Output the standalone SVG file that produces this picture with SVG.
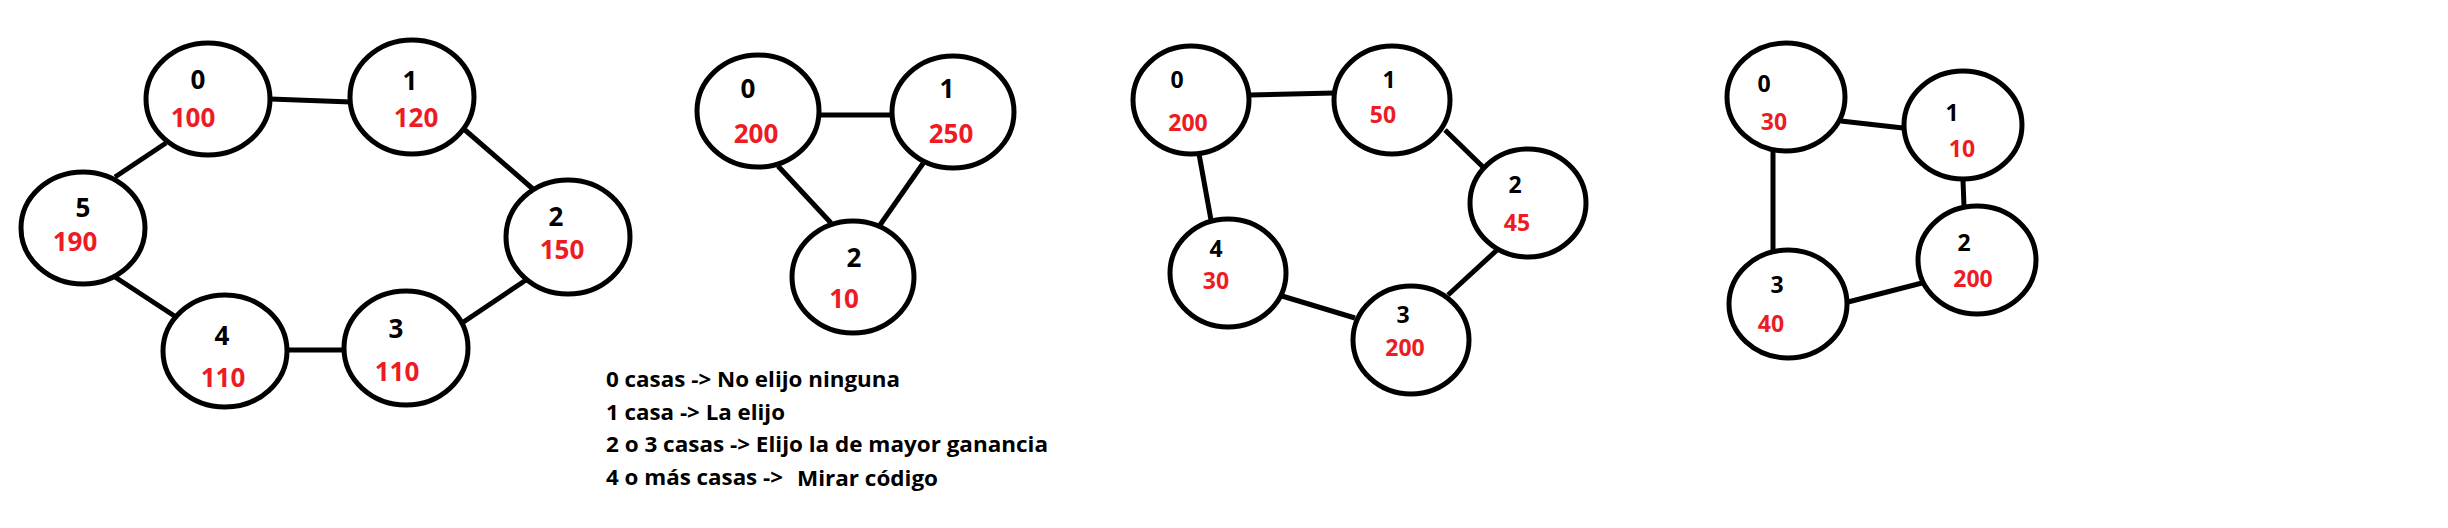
<svg xmlns="http://www.w3.org/2000/svg" width="2448" height="528" viewBox="0 0 2448 528">
<style>
.n{fill:#fff;stroke:#000;stroke-width:5}
.e line{stroke:#000;stroke-width:5;stroke-linecap:butt}
text{font-family:"Open Sans","Liberation Sans",sans-serif;font-weight:bold;text-anchor:middle}
.k{fill:#000}
.r{fill:#ED1C24}
.big{font-size:26px}
.sm{font-size:23px}
.note{font-size:22px;text-anchor:start;fill:#000}
</style>
<rect width="2448" height="528" fill="#fff"/>
<g id="connectors" class="e">
<line x1="270" y1="99" x2="351" y2="102"/>
<line x1="465" y1="130" x2="533" y2="189"/>
<line x1="526" y1="280" x2="462" y2="323"/>
<line x1="287" y1="350" x2="344" y2="350"/>
<line x1="176" y1="317" x2="115" y2="277"/>
<line x1="115" y1="177" x2="166" y2="143"/>
<line x1="820" y1="115" x2="892" y2="115"/>
<line x1="778" y1="166" x2="831" y2="223"/>
<line x1="924" y1="162" x2="880" y2="225"/>
<line x1="1249" y1="95" x2="1334" y2="93"/>
<line x1="1445" y1="130" x2="1483" y2="167"/>
<line x1="1199" y1="154" x2="1211" y2="220"/>
<line x1="1497" y1="250" x2="1448" y2="295"/>
<line x1="1282" y1="296" x2="1355" y2="318"/>
<line x1="1841" y1="121" x2="1903" y2="128"/>
<line x1="1963" y1="180" x2="1964" y2="207"/>
<line x1="1773" y1="152" x2="1773" y2="250"/>
<line x1="1848" y1="302" x2="1922" y2="283"/>
</g>
<g id="g1n0"><ellipse class="n" cx="208" cy="99" rx="62" ry="56"/><text class="k big" x="198" y="89">0</text><text class="r big" x="193" y="127">100</text></g>
<g id="g1n1"><ellipse class="n" cx="412" cy="97" rx="62" ry="57"/><text class="k big" x="410" y="90">1</text><text class="r big" x="416" y="127">120</text></g>
<g id="g1n2"><ellipse class="n" cx="568" cy="237" rx="62" ry="57"/><text class="k big" x="556" y="226">2</text><text class="r big" x="562" y="259">150</text></g>
<g id="g1n3"><ellipse class="n" cx="406" cy="348" rx="62" ry="57"/><text class="k big" x="396" y="338">3</text><text class="r big" x="397" y="381">110</text></g>
<g id="g1n4"><ellipse class="n" cx="225" cy="351" rx="62" ry="56"/><text class="k big" x="222" y="345">4</text><text class="r big" x="223" y="387">110</text></g>
<g id="g1n5"><ellipse class="n" cx="83" cy="228" rx="62" ry="56"/><text class="k big" x="83" y="217">5</text><text class="r big" x="75" y="251">190</text></g>
<g id="g2n0"><ellipse class="n" cx="758" cy="111" rx="61" ry="56"/><text class="k big" x="748" y="98">0</text><text class="r big" x="756" y="143">200</text></g>
<g id="g2n1"><ellipse class="n" cx="953" cy="112" rx="61" ry="56"/><text class="k big" x="947" y="98">1</text><text class="r big" x="951" y="143">250</text></g>
<g id="g2n2"><ellipse class="n" cx="853" cy="277" rx="61" ry="56"/><text class="k big" x="854" y="267">2</text><text class="r big" x="844" y="308">10</text></g>
<g id="g3n0"><ellipse class="n" cx="1191" cy="100" rx="58" ry="54"/><text class="k sm" x="1177" y="88">0</text><text class="r sm" x="1188" y="131">200</text></g>
<g id="g3n1"><ellipse class="n" cx="1392" cy="100" rx="58" ry="54"/><text class="k sm" x="1389" y="88">1</text><text class="r sm" x="1383" y="123">50</text></g>
<g id="g3n2"><ellipse class="n" cx="1528" cy="203" rx="58" ry="54"/><text class="k sm" x="1515" y="193">2</text><text class="r sm" x="1517" y="231">45</text></g>
<g id="g3n3"><ellipse class="n" cx="1411" cy="340" rx="58" ry="54"/><text class="k sm" x="1403" y="323">3</text><text class="r sm" x="1405" y="356">200</text></g>
<g id="g3n4"><ellipse class="n" cx="1228" cy="273" rx="58" ry="54"/><text class="k sm" x="1216" y="257">4</text><text class="r sm" x="1216" y="289">30</text></g>
<g id="g4n0"><ellipse class="n" cx="1786" cy="97" rx="59" ry="54"/><text class="k sm" x="1764" y="92">0</text><text class="r sm" x="1774" y="130">30</text></g>
<g id="g4n1"><ellipse class="n" cx="1963" cy="125" rx="59" ry="54"/><text class="k sm" x="1952" y="121">1</text><text class="r sm" x="1962" y="157">10</text></g>
<g id="g4n2"><ellipse class="n" cx="1977" cy="260" rx="59" ry="54"/><text class="k sm" x="1964" y="251">2</text><text class="r sm" x="1973" y="287">200</text></g>
<g id="g4n3"><ellipse class="n" cx="1788" cy="304" rx="59" ry="54"/><text class="k sm" x="1777" y="293">3</text><text class="r sm" x="1771" y="332">40</text></g>
<g id="notes">
<text class="note" x="606" y="387" textLength="294" lengthAdjust="spacingAndGlyphs">0 casas -&gt; No elijo ninguna</text>
<text class="note" x="606" y="420" textLength="179" lengthAdjust="spacingAndGlyphs">1 casa -&gt; La elijo</text>
<text class="note" x="606" y="452" textLength="442" lengthAdjust="spacingAndGlyphs">2 o 3 casas -&gt; Elijo la de mayor ganancia</text>
<text class="note" x="606" y="485" textLength="177" lengthAdjust="spacingAndGlyphs">4 o más casas -&gt;</text>
<text class="note" x="797" y="486" textLength="141" lengthAdjust="spacingAndGlyphs">Mirar código</text>
</g>
</svg>
